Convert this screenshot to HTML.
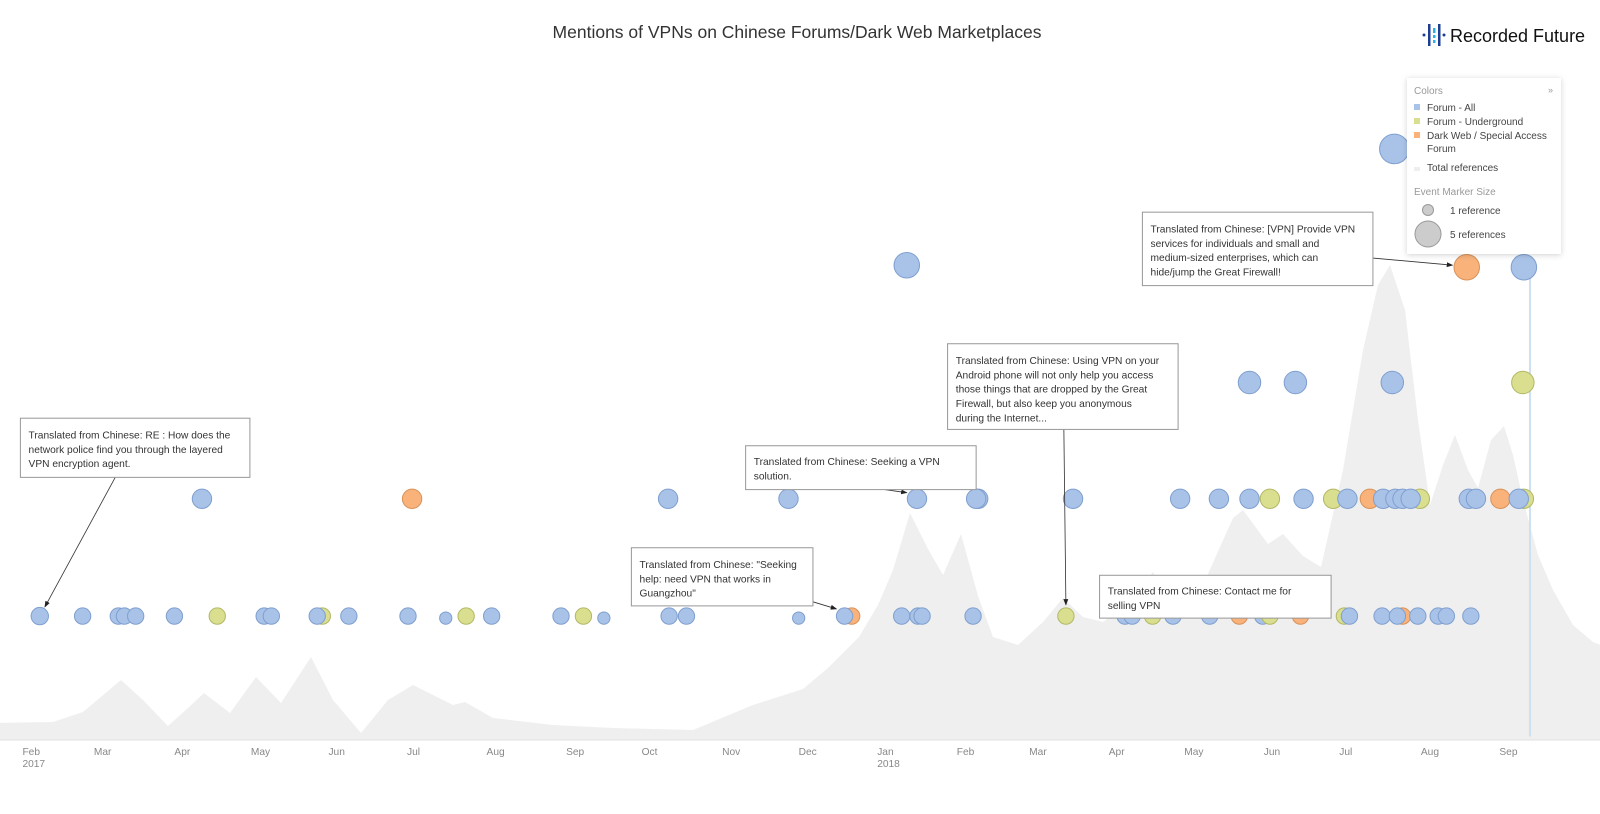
<!DOCTYPE html>
<html><head><meta charset="utf-8"><style>
html,body{margin:0;padding:0;background:#fff;width:1600px;height:814px;overflow:hidden}
svg{display:block;font-family:"Liberation Sans",sans-serif}
.b{fill:#a9c3e8;stroke:#7f9fcf;stroke-width:1}
.y{fill:#d9df8f;stroke:#b3b865;stroke-width:1}
.o{fill:#f8b27a;stroke:#d8925a;stroke-width:1}
.box{fill:#fff;stroke:#999;stroke-width:1}
.at{font-size:10px;fill:#333}
.ax{font-size:10px;fill:#888}
</style></head><body>
<svg width="1600" height="814" viewBox="0 0 1600 814">
<defs>
<marker id="ar" markerWidth="8" markerHeight="8" refX="7" refY="4" orient="auto"><path d="M0,1 L8,4 L0,7 z" fill="#222"/></marker>
<filter id="sh" x="-10%" y="-10%" width="120%" height="120%"><feDropShadow dx="0" dy="1" stdDeviation="3" flood-color="#000" flood-opacity="0.18"/></filter>
</defs>
<g transform="translate(-7,0)">
<polygon fill="#efefef" points="0,740 0,723 60,722 90,712 128,680 150,700 175,726 195,708 211,693 237,713 263,677 288,703 318,657 340,700 368,733 395,700 420,685 460,705 472,702 500,718 560,725 620,728 700,730 760,705 810,689 835,668 866,637 885,605 900,570 917,513 935,549 950,575 968,534 985,596 1000,637 1025,645 1050,622 1070,598 1090,617 1110,622 1140,600 1160,572 1180,610 1210,585 1240,518 1250,510 1275,544 1290,534 1310,556 1328,567 1350,470 1370,350 1385,285 1397,265 1412,310 1425,420 1437,505 1450,465 1462,435 1475,470 1485,488 1498,440 1511,426 1520,455 1530,500 1545,555 1560,590 1580,625 1600,642 1620,650 1620,740"/>
</g>
<line x1="0" y1="740" x2="1600" y2="740" stroke="#e2e2e2"/>
<text x="797" y="38" text-anchor="middle" font-size="17.5" fill="#333">Mentions of VPNs on Chinese Forums/Dark Web Marketplaces</text>
<g transform="matrix(1.02,0,0,1.02,0,0)">
<line x1="1500" y1="262" x2="1500" y2="722" stroke="#cfe0f2" stroke-width="2"/>
<g>
<circle class="b" cx="39" cy="604" r="8.5"/><circle class="b" cx="81" cy="604" r="8"/><circle class="b" cx="116" cy="604" r="8"/><circle class="b" cx="122" cy="604" r="8"/><circle class="b" cx="133" cy="604" r="8"/><circle class="b" cx="171" cy="604" r="8"/><circle class="y" cx="213" cy="604" r="8"/><circle class="b" cx="259" cy="604" r="8"/><circle class="b" cx="266" cy="604" r="8"/><circle class="y" cx="316" cy="604" r="8"/><circle class="b" cx="311" cy="604" r="8"/><circle class="b" cx="342" cy="604" r="8"/><circle class="b" cx="400" cy="604" r="8"/><circle class="b" cx="437" cy="606" r="6"/><circle class="y" cx="457" cy="604" r="8"/><circle class="b" cx="482" cy="604" r="8"/><circle class="b" cx="550" cy="604" r="8"/><circle class="y" cx="572" cy="604" r="8"/><circle class="b" cx="592" cy="606" r="6"/><circle class="b" cx="656" cy="604" r="8"/><circle class="b" cx="673" cy="604" r="8"/><circle class="b" cx="783" cy="606" r="6"/><circle class="o" cx="835" cy="604" r="8"/><circle class="b" cx="828" cy="604" r="8"/><circle class="b" cx="884" cy="604" r="8"/><circle class="b" cx="900" cy="604" r="8"/><circle class="b" cx="904" cy="604" r="8"/><circle class="b" cx="954" cy="604" r="8"/><circle class="y" cx="1045" cy="604" r="8"/>
<circle class="b" cx="1103" cy="604" r="8"/><circle class="b" cx="1110" cy="604" r="8"/><circle class="y" cx="1130" cy="604" r="8"/><circle class="b" cx="1150" cy="604" r="8"/><circle class="b" cx="1186" cy="604" r="8"/><circle class="o" cx="1215" cy="604" r="8"/><circle class="b" cx="1238" cy="604" r="8"/><circle class="y" cx="1245" cy="604" r="8"/><circle class="o" cx="1275" cy="604" r="8"/><circle class="y" cx="1318" cy="604" r="8"/><circle class="b" cx="1323" cy="604" r="8"/><circle class="b" cx="1355" cy="604" r="8"/><circle class="o" cx="1375" cy="604" r="8"/><circle class="b" cx="1370" cy="604" r="8"/><circle class="b" cx="1390" cy="604" r="8"/><circle class="b" cx="1410" cy="604" r="8"/><circle class="b" cx="1418" cy="604" r="8"/><circle class="b" cx="1442" cy="604" r="8"/>
</g>
<g>
<circle class="b" cx="198" cy="489" r="9.5"/><circle class="o" cx="404" cy="489" r="9.5"/><circle class="b" cx="655" cy="489" r="9.5"/><circle class="b" cx="773" cy="489" r="9.5"/><circle class="b" cx="899" cy="489" r="9.5"/><circle class="b" cx="959" cy="489" r="9.5"/><circle class="b" cx="957" cy="489" r="9.5"/><circle class="b" cx="1052" cy="489" r="9.5"/><circle class="b" cx="1157" cy="489" r="9.5"/><circle class="b" cx="1195" cy="489" r="9.5"/><circle class="b" cx="1225" cy="489" r="9.5"/><circle class="y" cx="1245" cy="489" r="9.5"/><circle class="b" cx="1278" cy="489" r="9.5"/><circle class="y" cx="1307" cy="489" r="9.5"/><circle class="b" cx="1321" cy="489" r="9.5"/><circle class="o" cx="1343" cy="489" r="9.5"/><circle class="b" cx="1356" cy="489" r="9.5"/><circle class="y" cx="1392" cy="489" r="9.5"/><circle class="b" cx="1368" cy="489" r="9.5"/><circle class="b" cx="1375" cy="489" r="9.5"/><circle class="b" cx="1383" cy="489" r="9.5"/><circle class="b" cx="1440" cy="489" r="9.5"/><circle class="b" cx="1447" cy="489" r="9.5"/><circle class="o" cx="1471" cy="489" r="9.5"/><circle class="y" cx="1494" cy="489" r="9.5"/><circle class="b" cx="1489" cy="489" r="9.5"/>
</g>
<circle class="b" cx="1225" cy="375" r="11"/><circle class="b" cx="1270" cy="375" r="11"/><circle class="b" cx="1365" cy="375" r="11"/><circle class="y" cx="1493" cy="375" r="11"/>
<circle class="b" cx="889" cy="260" r="12.5"/><circle class="o" cx="1438" cy="262" r="12.5"/><circle class="b" cx="1494" cy="262" r="12.5"/>
<circle class="b" cx="1367" cy="146" r="14.5"/>
<g>
<line x1="113" y1="468" x2="44" y2="595" stroke="#333" stroke-width="0.8" marker-end="url(#ar)"/>
<rect class="box" x="20" y="410" width="225" height="58"/>
<text class="at"><tspan x="28" y="430">Translated from Chinese: RE : How does the</tspan><tspan x="28" y="444">network police find you through the layered</tspan><tspan x="28" y="458">VPN encryption agent.</tspan></text>
<line x1="860" y1="479" x2="889" y2="483" stroke="#333" stroke-width="0.8" marker-end="url(#ar)"/>
<rect class="box" x="731" y="437" width="226" height="43"/>
<text class="at"><tspan x="739" y="456">Translated from Chinese: Seeking a VPN</tspan><tspan x="739" y="470">solution.</tspan></text>
<line x1="797" y1="590" x2="820" y2="597" stroke="#333" stroke-width="0.8" marker-end="url(#ar)"/>
<rect class="box" x="619" y="537" width="178" height="57"/>
<text class="at"><tspan x="627" y="557">Translated from Chinese: "Seeking</tspan><tspan x="627" y="571">help: need VPN that works in</tspan><tspan x="627" y="585">Guangzhou"</tspan></text>
<line x1="1043" y1="421" x2="1045" y2="593" stroke="#333" stroke-width="0.8" marker-end="url(#ar)"/>
<rect class="box" x="929" y="337" width="226" height="84"/>
<text class="at"><tspan x="937" y="357">Translated from Chinese: Using VPN on your</tspan><tspan x="937" y="371">Android phone will not only help you access</tspan><tspan x="937" y="385">those things that are dropped by the Great</tspan><tspan x="937" y="399">Firewall, but also keep you anonymous</tspan><tspan x="937" y="413">during the Internet...</tspan></text>
<rect class="box" x="1078" y="564" width="227" height="42"/>
<text class="at"><tspan x="1086" y="583">Translated from Chinese: Contact me for</tspan><tspan x="1086" y="597">selling VPN</tspan></text>
<line x1="1346" y1="253" x2="1424" y2="260" stroke="#333" stroke-width="0.8" marker-end="url(#ar)"/>
<rect class="box" x="1120" y="208" width="226" height="72"/>
<text class="at"><tspan x="1128" y="228">Translated from Chinese: [VPN] Provide VPN</tspan><tspan x="1128" y="242">services for individuals and small and</tspan><tspan x="1128" y="256">medium-sized enterprises, which can</tspan><tspan x="1128" y="270">hide/jump the Great Firewall!</tspan></text>
</g>
<g>
<text class="ax" x="22" y="740">Feb</text><text class="ax" x="22" y="752">2017</text>
<text class="ax" x="92" y="740">Mar</text><text class="ax" x="171" y="740">Apr</text><text class="ax" x="246" y="740">May</text><text class="ax" x="322" y="740">Jun</text><text class="ax" x="399" y="740">Jul</text><text class="ax" x="477" y="740">Aug</text><text class="ax" x="555" y="740">Sep</text><text class="ax" x="629" y="740">Oct</text><text class="ax" x="708" y="740">Nov</text><text class="ax" x="783" y="740">Dec</text>
<text class="ax" x="860" y="740">Jan</text><text class="ax" x="860" y="752">2018</text>
<text class="ax" x="938" y="740">Feb</text><text class="ax" x="1009" y="740">Mar</text><text class="ax" x="1087" y="740">Apr</text><text class="ax" x="1161" y="740">May</text><text class="ax" x="1239" y="740">Jun</text><text class="ax" x="1313" y="740">Jul</text><text class="ax" x="1393" y="740">Aug</text><text class="ax" x="1470" y="740">Sep</text>
</g>
</g>
<g transform="translate(1422,24)">
<circle cx="2" cy="11" r="1.5" fill="#1c3f94"/>
<rect x="6" y="0" width="2.5" height="22" fill="#1c3f94"/>
<rect x="11" y="4" width="2.5" height="5" fill="#2bb3e8"/><rect x="11" y="11" width="2.5" height="3" fill="#2bb3e8"/><rect x="11" y="16" width="2.5" height="3" fill="#2bb3e8"/>
<rect x="16" y="0" width="2.5" height="22" fill="#1c3f94"/>
<circle cx="22" cy="11" r="1.5" fill="#1c3f94"/>
<text x="28" y="18" font-size="18" fill="#111">Recorded Future</text>
</g>
<g>
<rect x="1407" y="78" width="154" height="176" fill="#fff" filter="url(#sh)"/>
<text x="1414" y="94" font-size="10" fill="#999">Colors</text>
<text x="1548" y="93" font-size="9" fill="#999">»</text>
<rect x="1414" y="104" width="6" height="6" fill="#a9c3e8"/><text x="1427" y="111" font-size="10" fill="#444">Forum - All</text>
<rect x="1414" y="118" width="6" height="6" fill="#d9df8f"/><text x="1427" y="125" font-size="10" fill="#444">Forum - Underground</text>
<rect x="1414" y="132" width="6" height="6" fill="#f8b27a"/><text x="1427" y="139" font-size="10" fill="#444">Dark Web / Special Access</text>
<text x="1427" y="152" font-size="10" fill="#444">Forum</text>
<rect x="1414" y="167" width="6" height="4" fill="#eee"/><text x="1427" y="171" font-size="10" fill="#444">Total references</text>
<text x="1414" y="195" font-size="10" fill="#999">Event Marker Size</text>
<circle cx="1428" cy="210" r="5.5" fill="#ccc" stroke="#999"/><text x="1450" y="214" font-size="10" fill="#444">1 reference</text>
<circle cx="1428" cy="234" r="13" fill="#ccc" stroke="#999"/><text x="1450" y="238" font-size="10" fill="#444">5 references</text>
</g>
</svg>
</body></html>
